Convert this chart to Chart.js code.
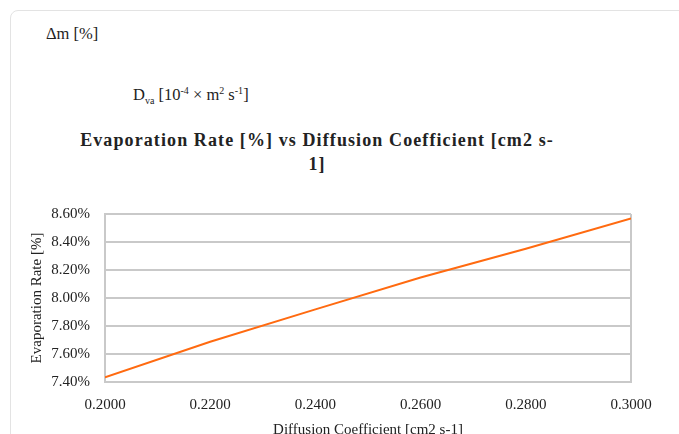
<!DOCTYPE html>
<html>
<head>
<meta charset="utf-8">
<script src="https://cdn.jsdelivr.net/npm/chart.js@4/dist/chart.umd.min.js"></script>
<style>
  html, body { margin: 0; padding: 0; background: #fff; overflow: hidden; }
  body { width: 679px; height: 434px; position: relative; font-family: "Liberation Serif", "Times New Roman", serif; color: #222; }
  .card { position: absolute; left: 10px; top: 10px; width: 700px; height: 460px; border: 1px solid #e3e3e3; border-radius: 8px; }
  .lbl { position: absolute; font-size: 16.5px; line-height: normal; white-space: nowrap; }
  .lbl sup, .lbl sub { font-size: 10px; line-height: 0; }
  #title { position: absolute; left: 0; width: 634px; top: 128px; text-align: center; font-weight: bold; font-size: 18px; line-height: 24px; letter-spacing: 1.1px; }
  #wrap { position: absolute; left: 0; top: 190px; width: 679px; height: 249px; }
</style>
</head>
<body>
<div class="card"></div>
<div class="lbl" style="left:46px; top:24px;">&Delta;m [%]</div>
<div class="lbl" style="left:133px; top:85px;">D<sub>va</sub> [10<sup>-4</sup> &times; m<sup>2</sup> s<sup>-1</sup>]</div>
<div id="title">Evaporation Rate [%] vs Diffusion Coefficient [cm2 s-<br>1]</div>
<div id="wrap"><canvas id="c"></canvas></div>
<script>
// diffusion coefficient [cm2 s-1] and evaporation rate [%]
const diffusion = [0.20, 0.22, 0.24, 0.26, 0.28, 0.30];
const evapRate = [7.433, 7.688, 7.919, 8.147, 8.352, 8.569];

const xMin = 0.2, xMax = 0.3, xStep = 0.02;
const yMin = 7.4, yMax = 8.6, yStep = 0.2;

const gridColor = '#c9c9c9';
const serif = "'Liberation Serif', 'Times New Roman', serif";

const points = diffusion.map((x, i) => ({ x, y: evapRate[i] }));

new Chart(document.getElementById('c'), {
  type: 'scatter',
  data: {
    datasets: [{
      label: 'Evaporation Rate [%]',
      data: points,
      showLine: true,
      borderColor: '#ff6a10',
      borderWidth: 2,
      pointRadius: 0,
      tension: 0
    }]
  },
  options: {
    responsive: true,
    maintainAspectRatio: false,
    animation: false,
    layout: { padding: { left: 0, right: 48, top: 19, bottom: 0 } },
    plugins: { legend: { display: false }, tooltip: { enabled: false } },
    scales: {
      x: {
        type: 'linear',
        min: xMin, max: xMax,
        ticks: {
          stepSize: xStep,
          color: '#222',
          padding: 14,
          font: { family: serif, size: 15 },
          callback: v => Number(v).toFixed(4)
        },
        grid: {
          drawTicks: false,
          lineWidth: 2,
          color: ctx => (ctx.index === 0 || Math.abs(ctx.tick.value - xMax) < 1e-9) ? gridColor : 'rgba(0,0,0,0)'
        },
        border: { color: gridColor, width: 2 },
        title: {
          display: true,
          text: 'Diffusion Coefficient [cm2 s-1]',
          color: '#222',
          font: { family: serif, size: 15 },
          padding: { top: 4, bottom: 0 }
        },
        afterFit: s => { s.height = 57; }
      },
      y: {
        min: yMin, max: yMax,
        ticks: {
          stepSize: yStep,
          color: '#222',
          padding: 15,
          font: { family: serif, size: 15 },
          callback: v => Number(v).toFixed(2) + '%'
        },
        grid: { drawTicks: false, lineWidth: 2, color: gridColor },
        border: { color: gridColor, width: 2 },
        title: {
          display: true,
          text: 'Evaporation Rate [%]',
          color: '#222',
          font: { family: serif, size: 15 },
          padding: { top: 28, bottom: 4 }
        },
        afterFit: s => { s.width = 105; }
      }
    }
  }
});
</script>
</body>
</html>
